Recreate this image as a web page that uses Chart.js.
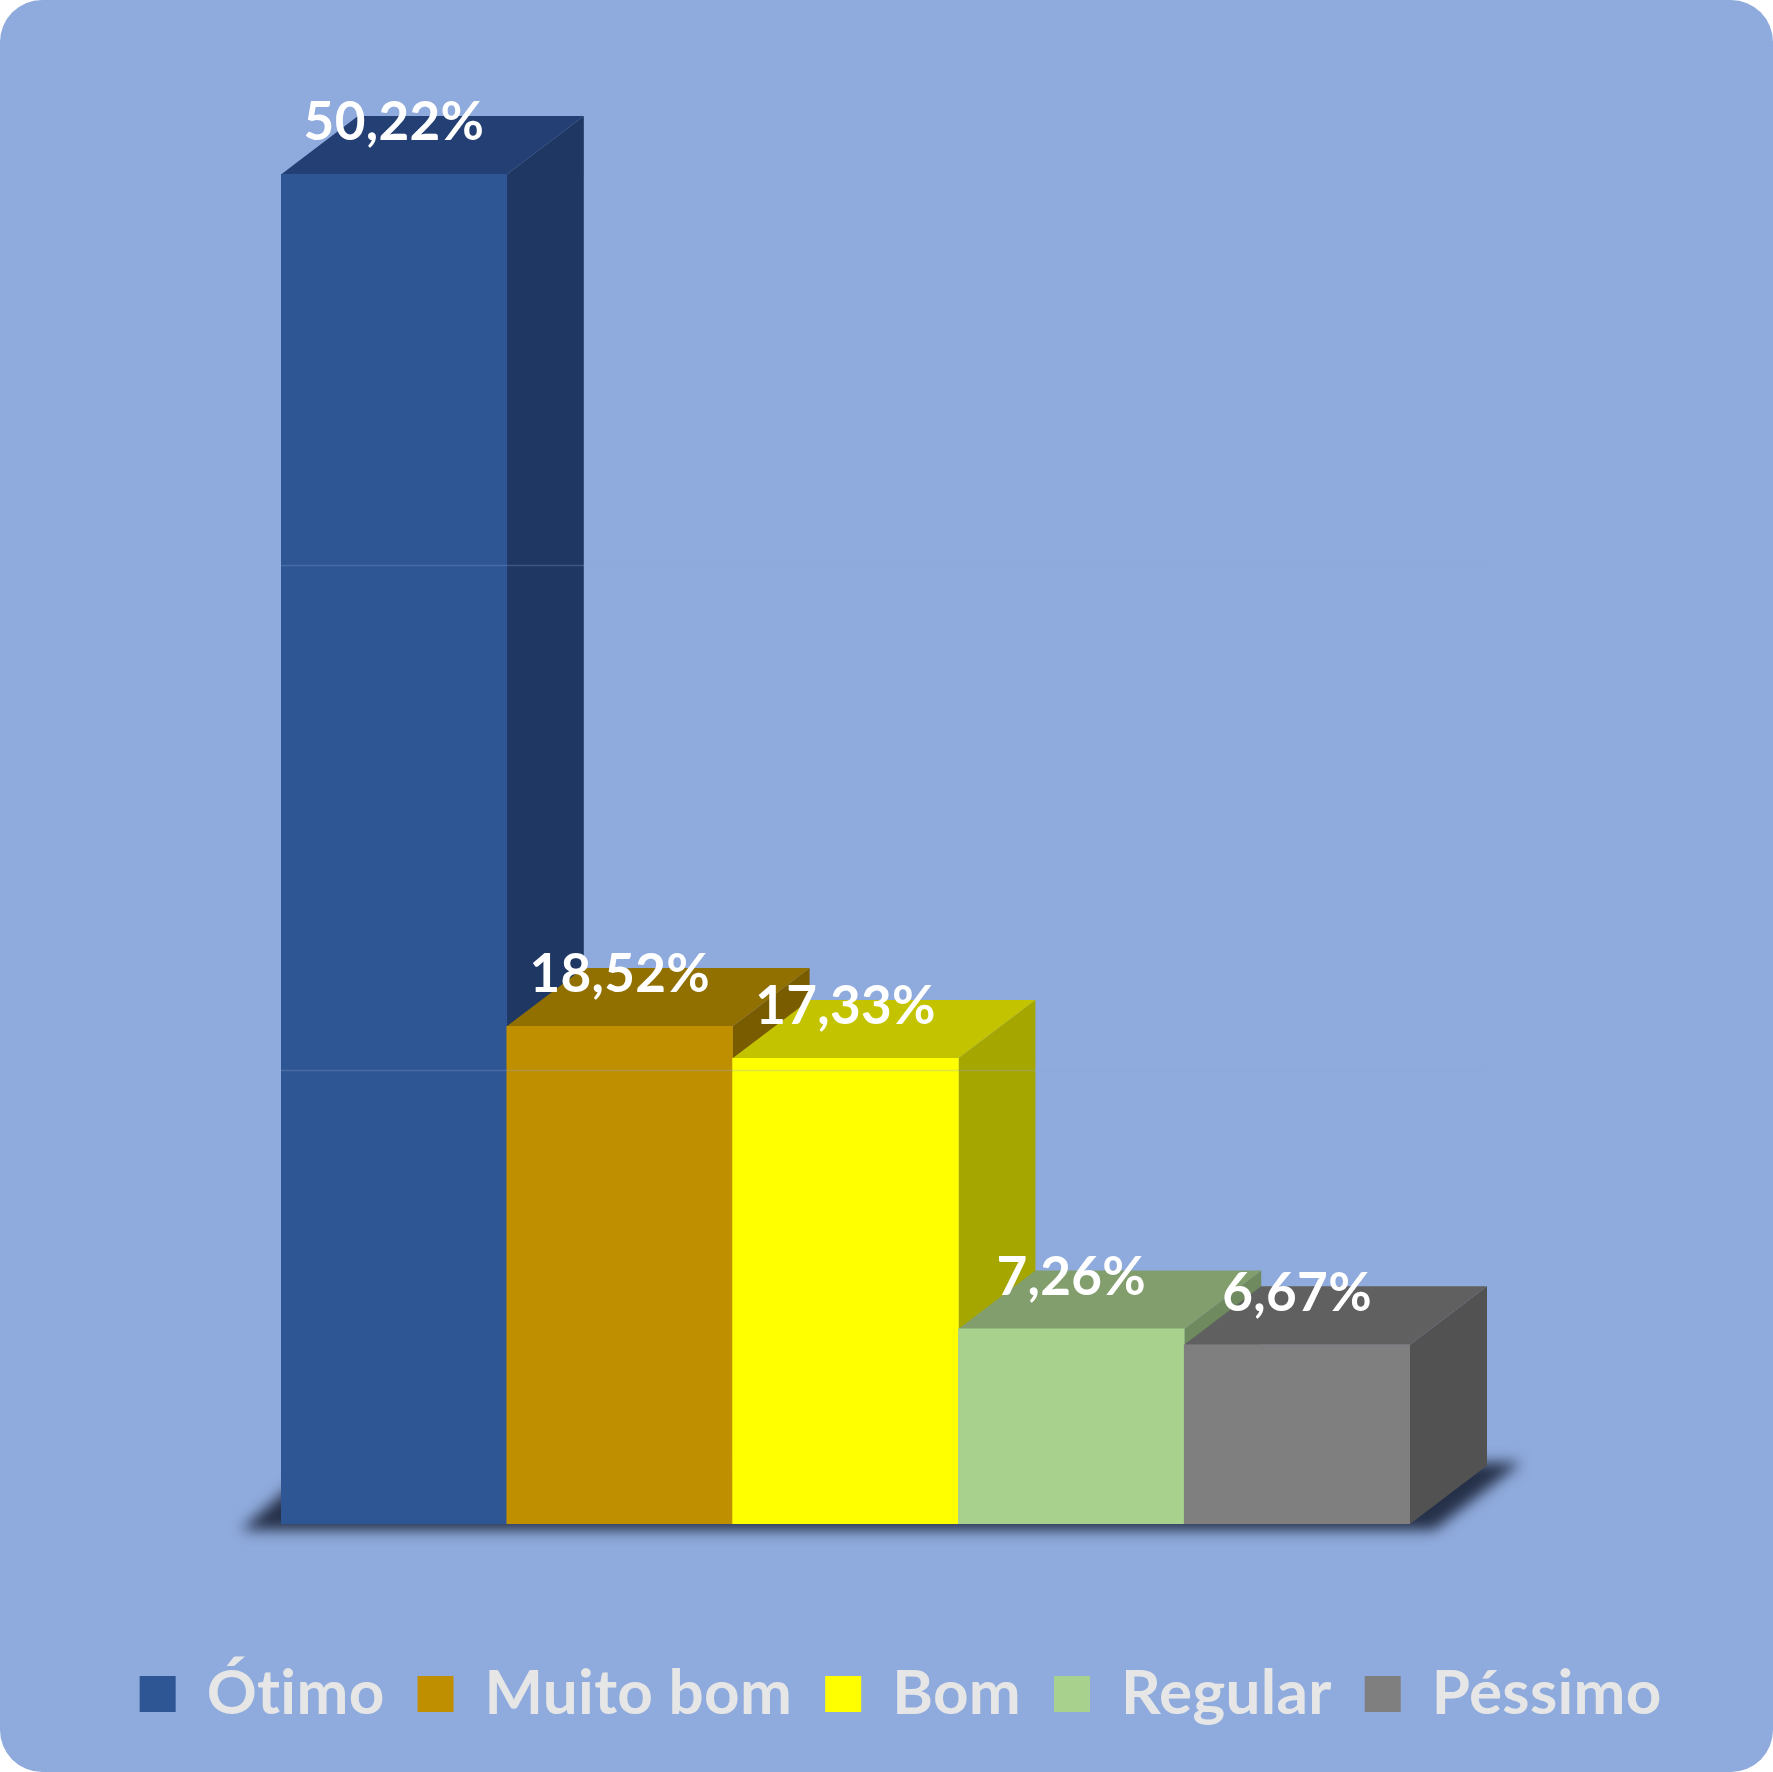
<!DOCTYPE html>
<html>
<head>
<meta charset="utf-8">
<script src="https://cdn.jsdelivr.net/npm/chart.js@4.4.1/dist/chart.umd.min.js"></script>
<style>
html,body{margin:0;padding:0;background:#ffffff;}
#wrap{position:relative;width:1773px;height:1772px;background:#8FAADC;border-radius:42px;overflow:hidden;}
canvas{display:block;font-variant-ligatures:none;}
</style>
</head>
<body>
<div id="wrap"><canvas id="c"></canvas></div>
<script>
// ---- data ----
const categories = ['Ótimo', 'Muito bom', 'Bom', 'Regular', 'Péssimo'];
const values = [50.22, 18.52, 17.33, 7.26, 6.67];
const frontColors = ['#2E5594', '#BF8F00', '#FFFF00', '#A9D18E', '#7F7F7F'];
const topColors = ['#243F73', '#927000', '#C3C300', '#819E6C', '#606060'];
const sideColors = ['#1F3763', '#7A5C00', '#A6A600', '#6E8A5E', '#525252'];
const gridValues = [16.9, 35.7];
const yMin = 0;
const yMax = 55;

const fmt = v => v.toFixed(2).replace('.', ',') + '%';

// 3D depth offsets (style)
const DX = 77, DY = 58.4;

const bars3d = {
  id: 'bars3d',
  beforeDraw(chart) {
    // non-zero letter spacing switches off the "ti" ligature of the font
    chart.ctx.letterSpacing = '0.3px';
  },
  beforeDatasetsDraw(chart) {
    const ctx = chart.ctx;
    const meta = chart.getDatasetMeta(0);
    const ys = chart.scales.y;
    const base = ys.getPixelForValue(0);
    const left = chart.chartArea.left, right = chart.chartArea.right;
    // floor shadow
    ctx.save();
    ctx.filter = 'blur(7px)';
    ctx.fillStyle = 'rgba(28,38,60,0.92)';
    ctx.beginPath();
    ctx.moveTo(left - 40, base + 6);
    ctx.lineTo(right + 24, base + 6);
    ctx.lineTo(right + DX + 34, base - DY - 3);
    ctx.lineTo(left + DX - 40, base - DY - 3);
    ctx.closePath();
    ctx.fill();
    ctx.restore();
    // top and side faces, painted left to right
    meta.data.forEach((bar, i) => {
      const p = bar.getProps(['x', 'y', 'base', 'width'], true);
      const x1 = p.x - p.width / 2, x2 = p.x + p.width / 2;
      const yt = p.y, yb = p.base;
      ctx.save();
      ctx.fillStyle = sideColors[i];
      ctx.beginPath();
      ctx.moveTo(x2, yt);
      ctx.lineTo(x2 + DX, yt - DY);
      ctx.lineTo(x2 + DX, yb - DY);
      ctx.lineTo(x2, yb);
      ctx.closePath();
      ctx.fill();
      ctx.fillStyle = topColors[i];
      ctx.beginPath();
      ctx.moveTo(x1, yt);
      ctx.lineTo(x2, yt);
      ctx.lineTo(x2 + DX, yt - DY);
      ctx.lineTo(x1 + DX, yt - DY);
      ctx.closePath();
      ctx.fill();
      ctx.restore();
    });
  },
  afterDatasetsDraw(chart) {
    const ctx = chart.ctx;
    const meta = chart.getDatasetMeta(0);
    const ys = chart.scales.y;
    const left = chart.chartArea.left, right = chart.chartArea.right;
    // faint gridlines visible over the bars
    ctx.save();
    ctx.strokeStyle = 'rgba(143,170,220,0.28)';
    ctx.lineWidth = 1.5;
    gridValues.forEach(v => {
      const y = Math.round(ys.getPixelForValue(v)) + 0.5;
      ctx.beginPath();
      ctx.moveTo(left, y);
      ctx.lineTo(right + DX, y);
      ctx.stroke();
    });
    ctx.restore();
    // data labels
    ctx.save();
    ctx.fillStyle = '#FFFFFF';
    ctx.font = 'bold 53px Lato';
    ctx.textAlign = 'center';
    ctx.textBaseline = 'alphabetic';
    meta.data.forEach((bar, i) => {
      const p = bar.getProps(['x', 'y'], true);
      ctx.fillText(fmt(values[i]), p.x, p.y - 34);
    });
    ctx.restore();
  }
};

const invisible = {
  display: true,
  grid: { display: false },
  ticks: { display: false },
  border: { display: false }
};

new Chart(document.getElementById('c'), {
  type: 'bar',
  data: {
    labels: categories,
    datasets: [{
      label: 'Avaliação',
      data: values,
      backgroundColor: frontColors,
      borderWidth: 0,
      barPercentage: 1,
      categoryPercentage: 1
    }]
  },
  options: {
    responsive: true,
    maintainAspectRatio: false,
    animation: false,
    layout: { padding: { top: 46, left: 19, right: 0, bottom: 37 } },
    scales: {
      x: Object.assign({}, invisible, { afterFit: s => { s.height = 106; } }),
      y: Object.assign({}, invisible, { min: yMin, max: yMax, afterFit: s => { s.width = 262; } }),
      y2: Object.assign({}, invisible, { type: 'linear', position: 'right', min: 0, max: 1, afterFit: s => { s.width = 363; } })
    },
    plugins: {
      tooltip: { enabled: false },
      legend: {
        position: 'bottom',
        onClick: null,
        labels: {
          boxWidth: 36,
          boxHeight: 36,
          padding: 33,
          color: '#E6E6E6',
          font: { family: 'Lato', weight: 'bold', size: 62 },
          generateLabels: chart => chart.data.labels.map((l, i) => ({
            text: l,
            fillStyle: frontColors[i],
            strokeStyle: frontColors[i],
            lineWidth: 0,
            fontColor: '#E6E6E6',
            hidden: false,
            index: i,
            datasetIndex: 0
          }))
        }
      }
    }
  },
  plugins: [bars3d]
});
</script>
</body>
</html>
